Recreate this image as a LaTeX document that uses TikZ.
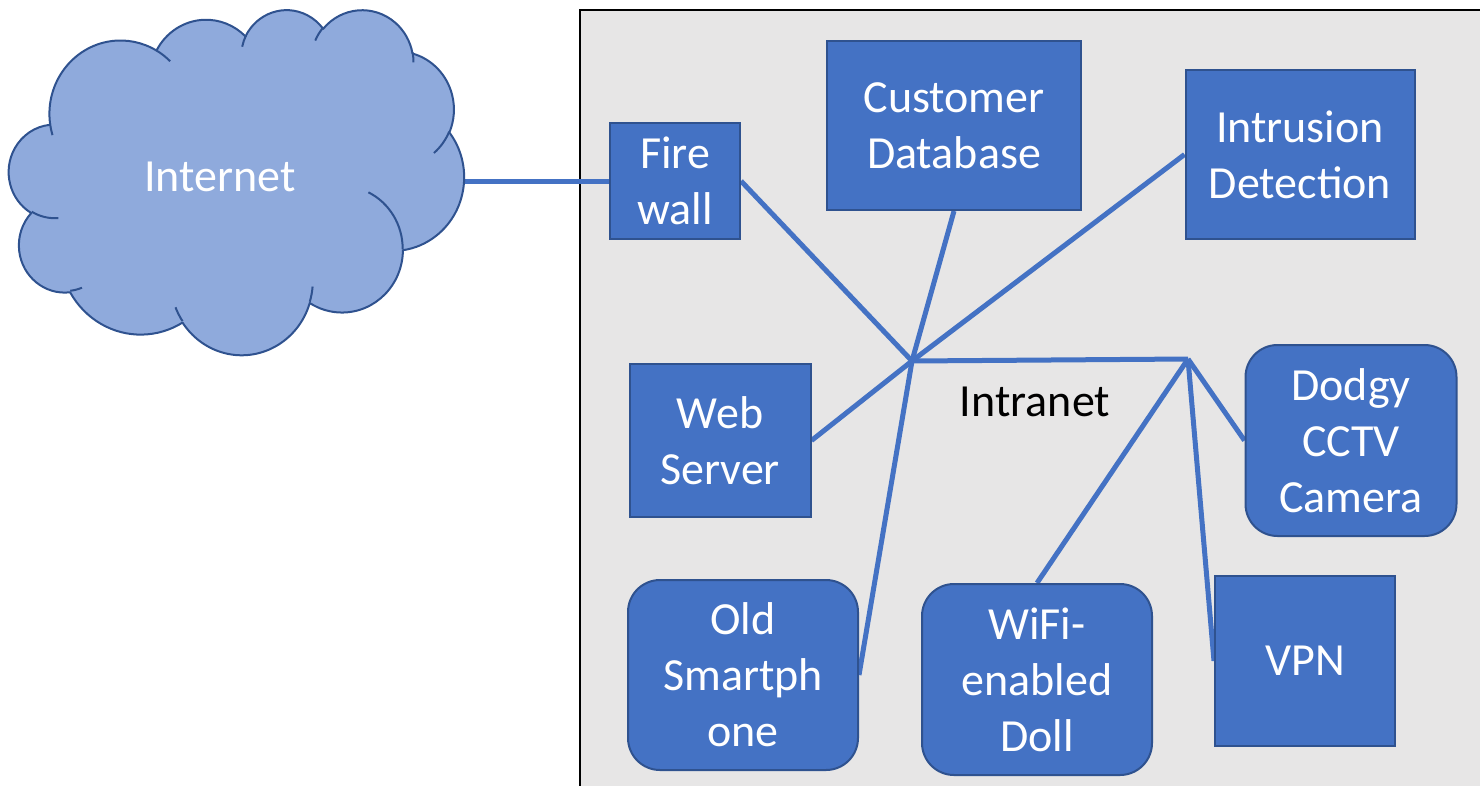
\documentclass[tikz,border=0pt]{standalone}
\usepackage{fontspec}
\setmainfont{Carlito}
\definecolor{boxblue}{HTML}{4472C4}
\definecolor{boxline}{HTML}{2F528F}
\definecolor{cloudfill}{HTML}{8FAADC}
\definecolor{panelgray}{HTML}{E7E6E6}
\pgfdeclarelayer{back}
\pgfdeclarelayer{wires}
\pgfsetlayers{back,wires,main}
\tikzset{
  % elliptic arc given by a "visual" start angle and sweep, as in preset shape geometry
  declare function={vis(\w,\h,\a)=\a+Mod(atan2(\w*sin(\a),\h*cos(\a))-\a+180,360)-180;},
  ooarc/.style n args={4}{insert path={arc[x radius=#1,y radius=#2,
      start angle={vis(#1,#2,#3)},end angle={vis(#1,#2,#3+#4)}]}},
  labelfont/.style={font=\fontsize{46}{56}\selectfont},
  box/.style={draw=boxline, fill=boxblue, line width=2pt, text=white,
      align=center, inner sep=0pt, labelfont},
  rbox/.style={box, rounded corners=32pt},
  wire/.style={draw=boxblue, line width=5pt},
  cloudedge/.style={draw=boxline, line width=2pt},
}
\begin{document}
\begin{tikzpicture}[x=1pt,y=-1pt]
\useasboundingbox (0,0) rectangle (1480,785);

% intranet panel
\begin{pgfonlayer}{back}
  \draw[fill=panelgray, draw=black, line width=2pt] (580,10) rectangle (1500,800);
\end{pgfonlayer}

% internet cloud
\begin{scope}[shift={(9,9)}, x=0.10532pt, y=-0.07986pt]
  \path[cloudedge, fill=cloudfill, line join=round] (390,1437)
    [ooarc={675.3}{919.0}{-190.4875}{123.7805}]
    [ooarc={533.3}{726.7}{-144.1024}{89.9452}]
    [ooarc={436.5}{594.5}{-145.8079}{99.7230}]
    [ooarc={485.7}{659.5}{-130.9861}{117.2417}]
    [ooarc={533.3}{727.3}{-78.7089}{109.0269}]
    [ooarc={677.5}{922.0}{-46.2673}{130.2690}]
    [ooarc={578.5}{786.7}{0.6250}{114.0333}]
    [ooarc={675.2}{921.5}{22.4516}{115.1726}]
    [ooarc={772.0}{1054.3}{66.2426}{75.7110}]
    [ooarc={436.0}{591.8}{-274.9421}{146.7356}]
    [ooarc={434.5}{594.5}{-246.8285}{152.5189}]
    -- cycle;
  \path[cloudedge]
    (469.3,2617.7) [ooarc={434.5}{594.5}{86.7420}{26.4295}]
    (692.8,3489.9) [ooarc={436.0}{591.8}{73.6105}{11.4475}]
    (1647.8,3909.0) [ooarc={675.2}{921.5}{137.6242}{14.0811}]
    (2882.7,3475.1) [ooarc={675.2}{921.5}{6.4533}{15.9984}]
    (3412.9,2295.4) [ooarc={578.5}{786.7}{-70.2924}{70.9174}]
    (4179.8,1535.4) [ooarc={533.3}{727.3}{30.3180}{27.7515}]
    (3832.4,542.6) [ooarc={485.7}{659.5}{-13.7443}{14.8589}]
    (2907.8,395.2) [ooarc={485.7}{659.5}{-149.1815}{18.1954}]
    (2214.1,472.0) [ooarc={436.5}{594.5}{-163.4943}{17.6864}]
    (1400.0,519.2) [ooarc={675.3}{919.0}{-66.7070}{12.3194}]
    (412.7,1578.9) [ooarc={675.3}{919.0}{157.6544}{11.8582}];
\end{scope}
\node[labelfont, text=white] (inet) at (220,176.5) {Internet};
\coordinate (inetport) at (464,181);

% hosts
\node[box, minimum width=130pt, minimum height=116pt] (fw) at (675,181) {Fire\\wall};
\node[box, minimum width=254pt, minimum height=169pt] (db) at (954,125.5) {Customer\\Database};
\node[box, minimum width=229pt, minimum height=169pt] (ids) at (1300,154.5) {Intrusion\\Detection};
\node[box, minimum width=181pt, minimum height=153pt] (web) at (720,440.5) {Web\\Server};
\node[rbox, minimum width=211pt, minimum height=191pt] (cctv) at (1351,440.5) {Dodgy\\CCTV\\Camera};
\node[box, minimum width=180pt, minimum height=170pt] (vpn) at (1305,661) {VPN};
\node[rbox, minimum width=230pt, minimum height=190pt] (phone) at (743,675) {Old\\Smartph\\one};
\node[rbox, minimum width=230pt, minimum height=191pt] (doll) at (1037,679.5) {WiFi-\\enabled\\Doll};
\node[labelfont, text=black] (intranet) at (1035,402) {Intranet};

% network wiring
\coordinate (hubA) at (912,361);
\coordinate (hubB) at (1188,359);
\begin{pgfonlayer}{wires}
  \draw[wire] (inetport) -- (fw.west);
  \draw[wire] (fw.east) -- (hubA);
  \draw[wire] (db.south) -- (hubA) -- (phone.east);
  \draw[wire] (ids.west) -- (hubA) -- (web.east);
  \draw[wire] (hubA) -- (hubB);
  \draw[wire] (hubB) -- (doll.north);
  \draw[wire] (hubB) -- (cctv.west);
  \draw[wire] (hubB) -- (vpn.west);
\end{pgfonlayer}
\end{tikzpicture}
\end{document}
